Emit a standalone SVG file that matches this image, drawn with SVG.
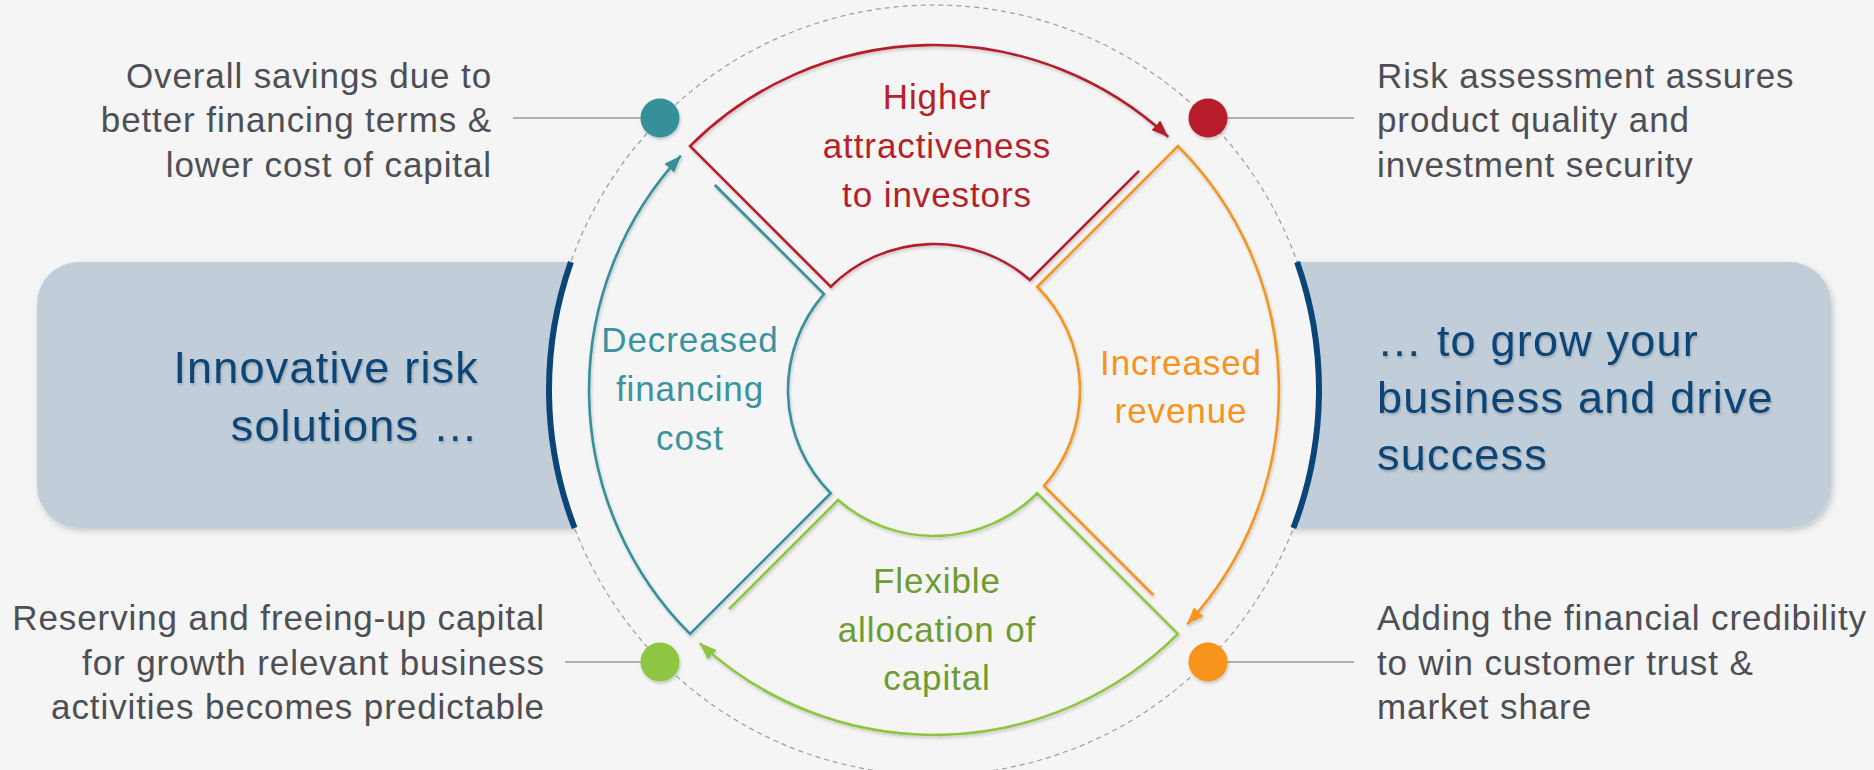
<svg xmlns="http://www.w3.org/2000/svg" width="1874" height="770" viewBox="0 0 1874 770">
<style>
.t{font-family:"Liberation Sans",Arial,Helvetica,sans-serif}
.side{font-size:35px;letter-spacing:0.9px;fill:#4e4f56}
.lbl{font-size:35px;letter-spacing:0.9px;text-anchor:middle}
.big{font-size:45px;letter-spacing:1.2px;fill:#0b4577}
.seg{fill:none;stroke-width:2.6;stroke-linejoin:miter;stroke-miterlimit:10}
.conn{stroke:#9a9a9a;stroke-width:1.5;fill:none}
.band{fill:#c1ced9}
.navy{fill:none;stroke:#0b4577;stroke-width:6}
</style>
<defs>
<filter id="sh" x="-10%" y="-10%" width="120%" height="130%">
<feDropShadow dx="2" dy="3" stdDeviation="3" flood-color="#000" flood-opacity="0.18"/>
</filter>
<filter id="lsh" x="-10%" y="-10%" width="120%" height="120%">
<feDropShadow dx="1" dy="2" stdDeviation="1.5" flood-color="#000" flood-opacity="0.2"/>
</filter>
<filter id="tsh" x="-5%" y="-10%" width="110%" height="130%">
<feDropShadow dx="1" dy="2" stdDeviation="1.2" flood-color="#000" flood-opacity="0.2"/>
</filter>
<marker id="aR" viewBox="0 0 17 13" refX="17" refY="6.5" markerWidth="17" markerHeight="13" markerUnits="userSpaceOnUse" orient="auto"><path d="M0,0 L17,6.5 L0,13 z" fill="#b71f2a"/></marker>
<marker id="aO" viewBox="0 0 17 13" refX="17" refY="6.5" markerWidth="17" markerHeight="13" markerUnits="userSpaceOnUse" orient="auto"><path d="M0,0 L17,6.5 L0,13 z" fill="#f7941d"/></marker>
<marker id="aG" viewBox="0 0 17 13" refX="17" refY="6.5" markerWidth="17" markerHeight="13" markerUnits="userSpaceOnUse" orient="auto"><path d="M0,0 L17,6.5 L0,13 z" fill="#8dc63f"/></marker>
<marker id="aT" viewBox="0 0 17 13" refX="17" refY="6.5" markerWidth="17" markerHeight="13" markerUnits="userSpaceOnUse" orient="auto"><path d="M0,0 L17,6.5 L0,13 z" fill="#35909c"/></marker>
</defs>

<rect width="1874" height="770" fill="#f5f5f5"/>

<g id="band-left">
<rect class="band" x="37" y="262" width="760" height="266" rx="42" filter="url(#sh)"/>
</g>
<g id="band-right">
<rect class="band" x="1071" y="262" width="760" height="266" rx="42" filter="url(#sh)"/>
</g>

<g id="ring">
<circle cx="934" cy="390" r="385" fill="#f5f5f5" stroke="#9d9d9d" stroke-width="1.2" stroke-dasharray="5 4"/>
<path class="navy" d="M570.9,262 A385,385 0 0 0 574.6,528"/>
<path class="navy" d="M1297.1,262 A385,385 0 0 1 1293.4,528"/>
</g>

<g id="connectors">
<line class="conn" x1="513" y1="118" x2="660" y2="118"/>
<line class="conn" x1="1208" y1="118" x2="1354" y2="118"/>
<line class="conn" x1="565" y1="662" x2="660" y2="662"/>
<line class="conn" x1="1208" y1="662" x2="1354" y2="662"/>
</g>

<g id="dot-teal"><circle cx="660" cy="118" r="19.5" fill="#35909c" filter="url(#lsh)"/></g>
<g id="dot-red"><circle cx="1208" cy="118" r="19.5" fill="#b71f2a" filter="url(#lsh)"/></g>
<g id="dot-green"><circle cx="660" cy="662" r="19.5" fill="#8dc63f" filter="url(#lsh)"/></g>
<g id="dot-orange"><circle cx="1208" cy="662" r="19.5" fill="#f7941d" filter="url(#lsh)"/></g>

<g id="seg-red" filter="url(#lsh)">
<path class="seg" stroke="#b71f2a" marker-end="url(#aR)" d="M1139.03,170.83 L1029.93,279.93 A146,146 0 0 0 830.76,286.76 L690.05,146.05 A345,345 0 0 1 1168.3,136.9"/>
</g>
<g id="seg-orange" filter="url(#lsh)">
<path class="seg" stroke="#f7941d" marker-end="url(#aO)" transform="rotate(90 934 390)" d="M1139.03,170.83 L1029.93,279.93 A146,146 0 0 0 830.76,286.76 L690.05,146.05 A345,345 0 0 1 1168.3,136.9"/>
</g>
<g id="seg-green" filter="url(#lsh)">
<path class="seg" stroke="#8dc63f" marker-end="url(#aG)" transform="rotate(180 934 390)" d="M1139.03,170.83 L1029.93,279.93 A146,146 0 0 0 830.76,286.76 L690.05,146.05 A345,345 0 0 1 1168.3,136.9"/>
</g>
<g id="seg-teal" filter="url(#lsh)">
<path class="seg" stroke="#35909c" marker-end="url(#aT)" transform="rotate(270 934 390)" d="M1139.03,170.83 L1029.93,279.93 A146,146 0 0 0 830.76,286.76 L690.05,146.05 A345,345 0 0 1 1168.3,136.9"/>
</g>

<g id="label-red" class="t lbl" fill="#b71f2a">
<text x="937" y="109">Higher</text>
<text x="937" y="158">attractiveness</text>
<text x="937" y="207">to investors</text>
</g>
<g id="label-teal" class="t lbl" fill="#3a939e">
<text x="690" y="352">Decreased</text>
<text x="690" y="401">financing</text>
<text x="690" y="450">cost</text>
</g>
<g id="label-orange" class="t lbl" fill="#f7941d">
<text x="1181" y="375">Increased</text>
<text x="1181" y="423">revenue</text>
</g>
<g id="label-green" class="t lbl" fill="#6d9c31">
<text x="937" y="593">Flexible</text>
<text x="937" y="642">allocation of</text>
<text x="937" y="690">capital</text>
</g>

<g id="big-left" class="t big" text-anchor="end" filter="url(#tsh)">
<text x="479" y="383">Innovative risk</text>
<text x="479" y="441">solutions …</text>
</g>
<g id="big-right" class="t big" filter="url(#tsh)">
<text x="1377" y="356">… to grow your</text>
<text x="1377" y="413">business and drive</text>
<text x="1377" y="470">success</text>
</g>

<g id="note-top-left" class="t side" text-anchor="end">
<text x="492" y="88">Overall savings due to</text>
<text x="492" y="132">better financing terms &amp;</text>
<text x="492" y="177">lower cost of capital</text>
</g>
<g id="note-top-right" class="t side">
<text x="1377" y="88">Risk assessment assures</text>
<text x="1377" y="132">product quality and</text>
<text x="1377" y="177">investment security</text>
</g>
<g id="note-bottom-left" class="t side" text-anchor="end">
<text x="545" y="630">Reserving and freeing-up capital</text>
<text x="545" y="675">for growth relevant business</text>
<text x="545" y="719">activities becomes predictable</text>
</g>
<g id="note-bottom-right" class="t side">
<text x="1377" y="630">Adding the financial credibility</text>
<text x="1377" y="675">to win customer trust &amp;</text>
<text x="1377" y="719">market share</text>
</g>
</svg>
